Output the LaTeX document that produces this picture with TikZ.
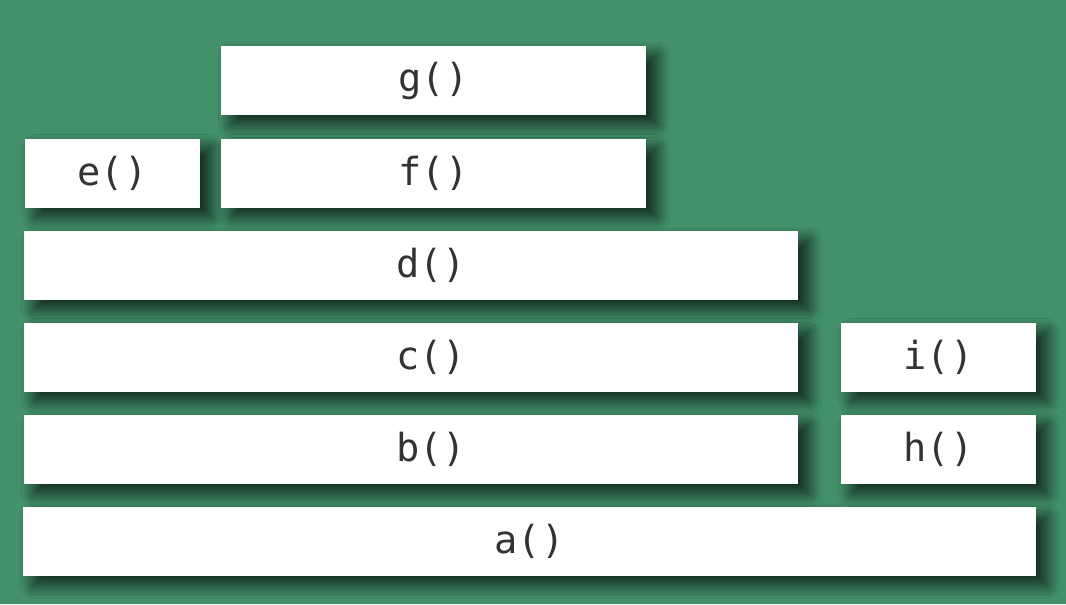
\documentclass[tikz,border=0pt]{standalone}
\usepackage{fontspec}
\setmonofont{DejaVu Sans Mono}
\usetikzlibrary{shadows.blur}
\definecolor{flamebg}{RGB}{66,145,104}
\definecolor{framegray}{RGB}{51,51,51}

\begin{document}
\begin{tikzpicture}[x=0.75pt,y=-0.75pt,
    frame/.style={fill=white,inner sep=0pt,outer sep=0pt,minimum height=51.75pt,
      text=framegray,font=\ttfamily\fontsize{29}{33}\selectfont,
      blur shadow={shadow xshift=8pt,shadow yshift=-7pt,shadow blur radius=10pt,
        shadow blur steps=25,shadow opacity=75}}]
  \fill[flamebg] (0,0) rectangle (1066,604);
  % bottom of the stack
  \node[frame,minimum width=759.75pt] (a) at (529.5,541.5) {a()};
  \node[frame,minimum width=580.5pt] (b) at (411,449.5) {\hspace*{30pt}b()};
  \node[frame,minimum width=146.25pt] (h) at (938.5,449.5) {h()};
  \node[frame,minimum width=580.5pt] (c) at (411,357) {\hspace*{30pt}c()};
  \node[frame,minimum width=146.25pt] (i) at (938.5,357) {i()};
  \node[frame,minimum width=580.5pt] (d) at (411,265.5) {\hspace*{30pt}d()};
  % top of the stack
  \node[frame,minimum width=131.25pt] (e) at (112.5,173) {e()};
  \node[frame,minimum width=318.75pt] (f) at (433.5,173) {f()};
  \node[frame,minimum width=318.75pt] (g) at (433.5,80.5) {g()};
\end{tikzpicture}
\end{document}
